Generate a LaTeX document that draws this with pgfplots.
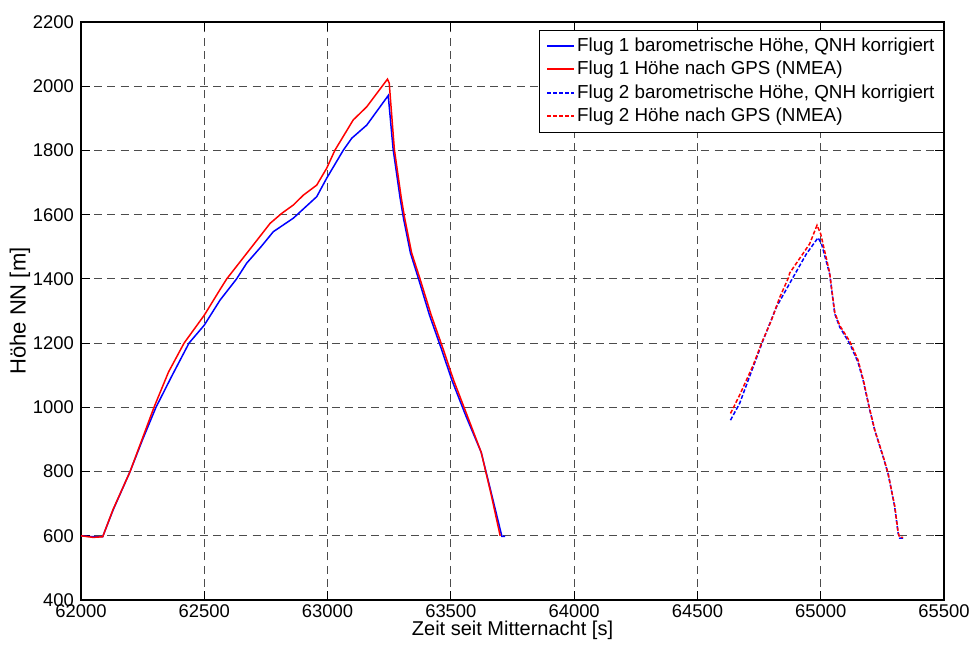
\documentclass[border=0pt]{standalone}
\usepackage{fontspec}
\setmainfont{Liberation Sans}
\usepackage{pgfplots}
\pgfplotsset{compat=1.18}
\definecolor{mblue}{RGB}{0,0,255}
\definecolor{mred}{RGB}{255,0,0}
\begin{document}
\begin{tikzpicture}
\begin{axis}[
  at={(0,0)}, anchor=south west,
  scale only axis, width=431.5pt, height=289pt,
  xmin=62000, xmax=65500, ymin=400, ymax=2200,
  xtick={62000,62500,...,65500}, ytick={400,600,...,2200},
  scaled x ticks=false,
  /pgf/number format/assume math mode=true,
  xticklabel={\pgfmathprintnumber[fixed,1000 sep={}]{\tick}},
  yticklabel={\pgfmathprintnumber[fixed,1000 sep={}]{\tick}},
  tick label style={font=\fontsize{9.2}{10}\selectfont},
  xticklabel style={yshift=1pt},
  tick align=inside, tickpos=both,
  major tick length=4.5pt,
  tick style={black, line width=0.5pt},
  axis line style={black, line width=0.7pt},
  grid=major,
  major grid style={black!70, line width=0.5pt, dash pattern=on 4pt off 2.6pt},
  xlabel={Zeit seit Mitternacht [s]},
  ylabel={Höhe NN [m]},
  every axis x label/.style={at={(axis description cs:0.5,-0.052)}, anchor=center, font=\fontsize{10}{12}\selectfont},
  every axis y label/.style={at={(axis description cs:-0.0707,0.5)}, anchor=center, rotate=90, font=\fontsize{11}{13}\selectfont},
  legend style={at={(axis description cs:1,0.986)}, anchor=north east, draw=black, line width=0.5pt, fill=white,
    font=\fontsize{9.4}{11}\selectfont, inner xsep=3.5pt, inner ysep=2pt, row sep=0pt,
    nodes={text height=7.4pt, text depth=2.3pt, inner sep=1pt}},
  legend cell align=left,
]
\addplot[color=mblue, line width=0.75pt, legend image code/.code={\draw[mblue, line width=1pt] (0pt,0.25pt) -- (13.5pt,0.25pt);}] coordinates {
(62000,600) (62050,597) (62088,597) (62130,680) (62199,800) (62250,900) (62304,1000)
(62370,1100) (62438,1200) (62500,1256) (62564,1334) (62631,1400) (62672,1449) (62730,1500)
(62780,1547) (62861,1589) (62956,1656) (62996,1713) (63064,1801) (63098,1838) (63159,1879) (63246,1971)
(63266,1803) (63294,1653) (63308,1588) (63336,1481) (63371,1395) (63413,1288) (63462,1181) (63504,1085)
(63560,975) (63623,860) (63665,730) (63707,598) (63720,598)
};
\addlegendentry{Flug 1 barometrische Höhe, QNH korrigiert}
\addplot[color=mred, line width=0.75pt, legend image code/.code={\draw[mred, line width=1pt] (0pt,0.25pt) -- (13.5pt,0.25pt);}] coordinates {
(62000,600) (62050,595) (62088,597) (62130,682) (62199,800) (62250,905) (62296,1000)
(62355,1110) (62418,1200) (62500,1287) (62564,1367) (62591,1400) (62699,1506) (62767,1573)
(62814,1604) (62861,1630) (62902,1661) (62956,1692) (62996,1744) (63030,1801) (63104,1895)
(63159,1936) (63243,2022) (63250,2010)
(63271,1802) (63299,1652) (63313,1588) (63341,1481) (63377,1395) (63420,1288) (63469,1181) (63511,1085)
(63566,975) (63623,860) (63663,730) (63700,600)
};
\addlegendentry{Flug 1 Höhe nach GPS (NMEA)}
\addplot[color=mblue, line width=0.75pt, dash pattern=on 2pt off 1pt, legend image code/.code={\draw[mblue, line width=1pt, dash pattern=on 2pt off 1pt] (0pt,0.25pt) -- (13.5pt,0.25pt);}] coordinates {
(64634,960) (64671,1012) (64726,1126) (64766,1208) (64820,1312) (64888,1405) (64942,1478)
(64989,1528) (65003,1510) (65036,1416) (65057,1291) (65077,1250) (65118,1198) (65151,1141)
(65172,1084) (65199,991) (65219,929) (65253,846) (65273,794) (65300,691) (65314,608) (65320,593) (65334,593)
};
\addlegendentry{Flug 2 barometrische Höhe, QNH korrigiert}
\addplot[color=mred, line width=0.75pt, dash pattern=on 2pt off 1pt, legend image code/.code={\draw[mred, line width=1pt, dash pattern=on 2pt off 1pt] (0pt,0.25pt) -- (13.5pt,0.25pt);}] coordinates {
(64634,981) (64644,996) (64671,1038) (64726,1131) (64759,1198) (64800,1271) (64834,1343)
(64870,1405) (64874,1418) (64955,1509) (64985,1567) (65000,1540) (65036,1420) (65057,1295)
(65077,1255) (65118,1205) (65151,1148) (65172,1088) (65199,993) (65219,930) (65253,848)
(65273,795) (65300,693) (65314,610) (65320,595) (65334,595)
};
\addlegendentry{Flug 2 Höhe nach GPS (NMEA)}
\end{axis}
\pgfresetboundingbox
\path[use as bounding box] (-40.5pt,-22pt) rectangle (446.5pt,300pt);
\end{tikzpicture}
\end{document}
